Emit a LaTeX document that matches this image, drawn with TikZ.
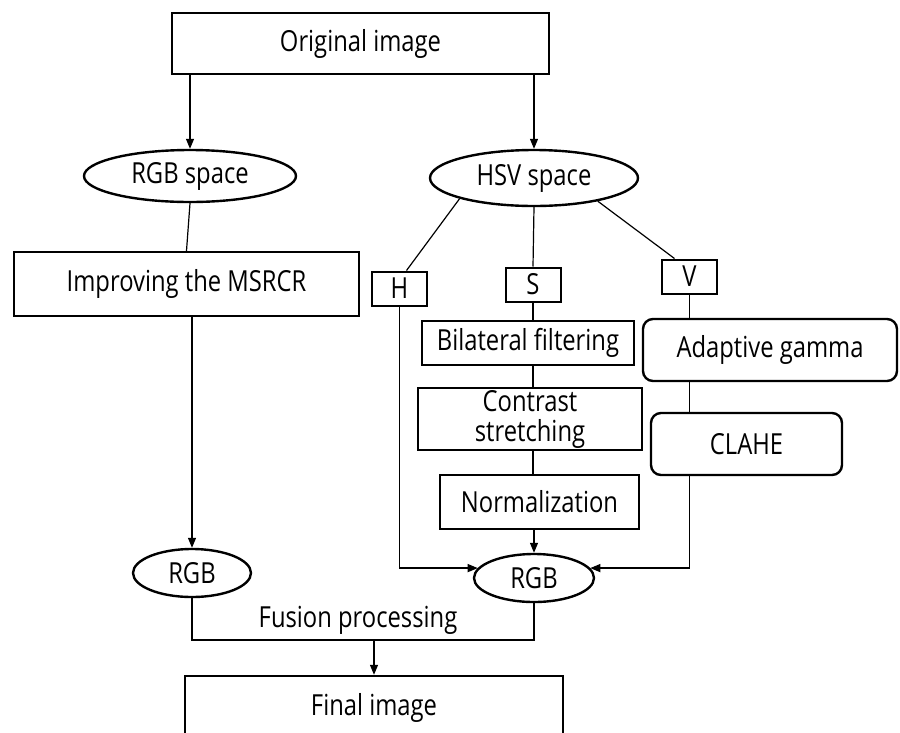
\documentclass[tikz,border=0pt]{standalone}
\usepackage{fontspec}
\setmainfont[FakeStretch=0.82]{Open Sans}
\usetikzlibrary{shapes.geometric, arrows.meta}

\begin{document}
\begin{tikzpicture}[x=1pt, y=-1pt,
    every node/.style={font=\fontsize{29}{30}\selectfont, inner sep=0pt, align=center},
    procbox/.style={draw, line width=2.4pt, rectangle},
    spaceoval/.style={draw, line width=2.4pt, ellipse},
    stagebox/.style={draw, line width=2.4pt, rectangle, rounded corners=10pt},
    chanbox/.style={draw, line width=2pt, rectangle, minimum width=55pt, minimum height=34pt},
    conn/.style={line width=1.2pt},
    flow/.style={line width=1.2pt, -{Triangle[length=10pt, width=8pt]}}]
  \useasboundingbox (0,0) rectangle (900,732);
  \clip (0,0) rectangle (900,732);

  \node[procbox, minimum width=377pt, minimum height=61pt] (orig) at (360.5,43.5) {Original image};

  \node[spaceoval, minimum width=212pt, minimum height=52pt] (rgbsp) at (190,176) {RGB space};
  \node[spaceoval, minimum width=208pt, minimum height=56pt] (hsvsp) at (534,178) {HSV space};

  \node[procbox, minimum width=345pt, minimum height=64pt] (msrcr) at (186.5,284) {Improving the MSRCR};

  \node[chanbox] (hbox) at (399.5,288.5) {H};
  \node[chanbox] (sbox) at (533,284.5) {S};
  \node[chanbox] (vbox) at (689.5,276.5) {V};

  \node[procbox, minimum width=212pt, minimum height=44pt] (bilat) at (528,343) {Bilateral filtering};
  \node[procbox, minimum width=224pt, minimum height=62pt] (contrast) at (530,419) {Contrast\\stretching};
  \node[procbox, minimum width=199pt, minimum height=54pt] (norm) at (539.5,502) {Normalization};

  \node[stagebox, minimum width=254pt, minimum height=62pt] (adapt) at (770,350) {Adaptive gamma};
  \node[stagebox, minimum width=191pt, minimum height=62pt] (clahe) at (746.5,444) {CLAHE};

  \node[spaceoval, minimum width=118pt, minimum height=48pt] (rgbl) at (192,573) {RGB};
  \node[spaceoval, minimum width=120pt, minimum height=48pt] (rgbr) at (534,578) {RGB};

  \coordinate (fuse) at (0,640);
  \node (fusion) at (358,620) {Fusion processing};

  \node[procbox, minimum width=378pt, minimum height=64pt] (final) at (374,708) {Final image};

  \draw[flow] (rgbsp.north |- orig.south) -- (rgbsp.north);
  \draw[flow] (hsvsp.north |- orig.south) -- (hsvsp.north);
  \draw[conn] (rgbsp.south) -- (msrcr.north);
  \draw[flow] (rgbl.north |- msrcr.south) -- (rgbl.north);

  \draw[conn] (hsvsp.south west) -- ([xshift=7pt]hbox.north);
  \draw[conn] (hsvsp.south) -- (sbox.north);
  \draw[conn] (hsvsp.-20) -- ([xshift=-15pt]vbox.north);

  \draw[conn] (sbox.south) -- (sbox.south |- bilat.north);
  \draw[conn] (sbox.south |- bilat.south) -- (sbox.south |- contrast.north);
  \draw[conn] (sbox.south |- contrast.south) -- (sbox.south |- norm.north);
  \draw[flow] (rgbr.north |- norm.south) -- (rgbr.north);

  \draw[conn] (vbox.south) -- (vbox.south |- adapt.north);
  \draw[conn] (vbox.south |- adapt.south) -- (vbox.south |- clahe.north);
  \draw[flow] (vbox.south |- clahe.south) |- (rgbr.10);
  \draw[flow] (hbox.south) |- (rgbr.170);

  \draw[conn] (rgbl.south) -- (rgbl.south |- fuse) -- (rgbr.south |- fuse) -- (rgbr.south);
  \draw[flow] (final.north |- fuse) -- (final.north);
\end{tikzpicture}
\end{document}
